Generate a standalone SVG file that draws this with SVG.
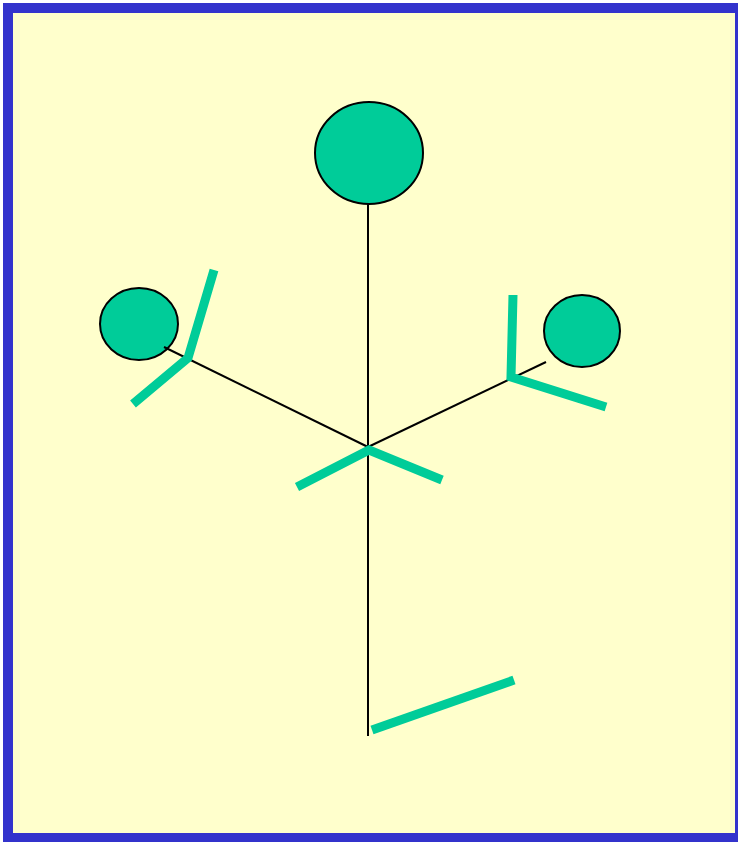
<svg xmlns="http://www.w3.org/2000/svg" width="738" height="842" viewBox="0 0 738 842">
<style>
.frame{fill:#FFFFCC;stroke:#3333CC;stroke-width:10}
.node{fill:#00CC99;stroke:#000;stroke-width:2}
.conn{stroke:#000;stroke-width:2;fill:none}
.leaf{stroke:#00CC99;stroke-width:9;fill:none;stroke-linejoin:miter;stroke-linecap:butt}
</style>
<rect class="frame" x="8" y="8" width="732" height="830"/>
<g id="top"><ellipse class="node" cx="369" cy="153" rx="54" ry="51"/></g>
<g id="left"><ellipse class="node" cx="139" cy="324" rx="39" ry="36"/></g>
<g id="right"><ellipse class="node" cx="582" cy="331" rx="38" ry="36"/></g>
<g id="connectors">
<line class="conn" x1="368" y1="204" x2="368" y2="736"/>
<line class="conn" x1="164" y1="347" x2="368" y2="447"/>
<line class="conn" x1="546" y1="362" x2="368" y2="447"/>
</g>
<g id="leaves">
<polyline class="leaf" points="214,270 188,358 133,404"/>
<polyline class="leaf" points="513,295 511,377 606,407"/>
<polyline class="leaf" points="297,487 369,450 442,480"/>
<line class="leaf" x1="372" y1="730" x2="514" y2="680"/>
</g>
</svg>
